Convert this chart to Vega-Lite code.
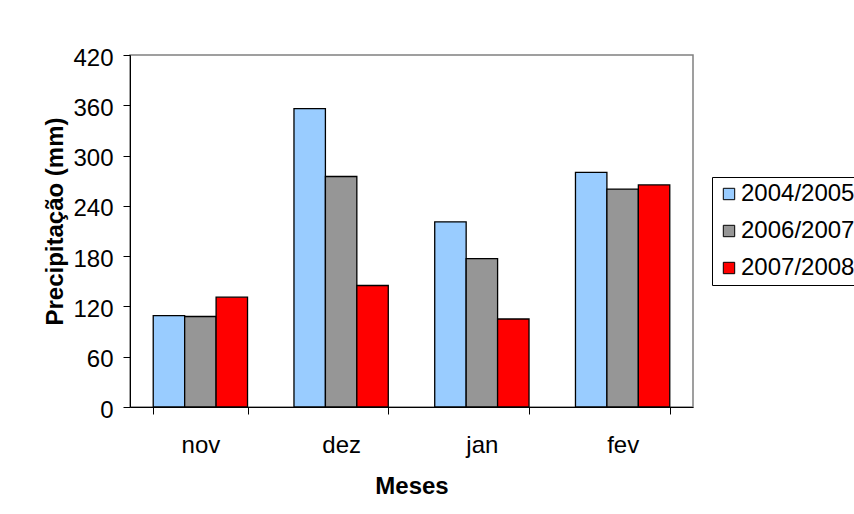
{
  "$schema": "https://vega.github.io/schema/vega-lite/v6.json",
  "description": "Precipitação mensal por safra",
  "width": 563,
  "height": 352,
  "autosize": {"type": "none"},
  "padding": {"left": 130, "top": 55, "right": 161, "bottom": 107},
  "background": "white",
  "config": {
    "font": "Liberation Sans",
    "view": {"stroke": "#808080", "strokeWidth": 1.5}
  },
  "data": {
    "values": [
      {"mes": "nov", "ano": "2004/2005", "valor": 109},
      {"mes": "nov", "ano": "2006/2007", "valor": 108},
      {"mes": "nov", "ano": "2007/2008", "valor": 131},
      {"mes": "dez", "ano": "2004/2005", "valor": 356},
      {"mes": "dez", "ano": "2006/2007", "valor": 275},
      {"mes": "dez", "ano": "2007/2008", "valor": 145},
      {"mes": "jan", "ano": "2004/2005", "valor": 221},
      {"mes": "jan", "ano": "2006/2007", "valor": 177},
      {"mes": "jan", "ano": "2007/2008", "valor": 105},
      {"mes": "fev", "ano": "2004/2005", "valor": 280},
      {"mes": "fev", "ano": "2006/2007", "valor": 260},
      {"mes": "fev", "ano": "2007/2008", "valor": 265}
    ]
  },
  "mark": {"type": "bar", "stroke": "black", "strokeWidth": 1.3},
  "encoding": {
    "x": {
      "field": "mes",
      "type": "nominal",
      "sort": ["nov", "dez", "jan", "fev"],
      "scale": {"paddingInner": 0.33, "paddingOuter": 0.165},
      "axis": {
        "title": "Meses",
        "titleFontSize": 24,
        "titleFontWeight": "bold",
        "titleColor": "black",
        "titleY": 86,
        "titleBaseline": "alphabetic",
        "labelAngle": 0,
        "labelFontSize": 24,
        "labelColor": "black",
        "labelBaseline": "alphabetic",
        "labelPadding": 38,
        "tickBand": "extent",
        "tickSize": 7,
        "tickColor": "black",
        "domainColor": "black"
      }
    },
    "xOffset": {
      "field": "ano",
      "type": "nominal",
      "scale": {"paddingInner": 0, "paddingOuter": 0}
    },
    "y": {
      "field": "valor",
      "type": "quantitative",
      "scale": {"domain": [0, 420], "nice": false},
      "axis": {
        "values": [0, 60, 120, 180, 240, 300, 360, 420],
        "grid": false,
        "title": "Precipitação (mm)",
        "titleFontSize": 24,
        "titleFontWeight": "bold",
        "titleColor": "black",
        "titleX": -68,
        "titleY": 166,
        "titleBaseline": "alphabetic",
        "labelFontSize": 24,
        "labelColor": "black",
        "labelPadding": 10,
        "labelOffset": 3,
        "tickSize": 7,
        "tickColor": "black",
        "domainColor": "black"
      }
    },
    "color": {
      "field": "ano",
      "type": "nominal",
      "scale": {
        "domain": ["2004/2005", "2006/2007", "2007/2008"],
        "range": ["#99ccff", "#969696", "#ff0000"]
      },
      "legend": {
        "orient": "none",
        "legendX": 582,
        "legendY": 122,
        "title": null,
        "labelFontSize": 24,
        "labelColor": "black",
        "labelOffset": 0,
        "symbolType": "square",
        "symbolSize": 130,
        "symbolStrokeColor": "black",
        "symbolStrokeWidth": 1,
        "symbolOffset": 0,
        "strokeColor": "black",
        "fillColor": "white",
        "padding": 5,
        "rowPadding": 13
      }
    }
  }
}
